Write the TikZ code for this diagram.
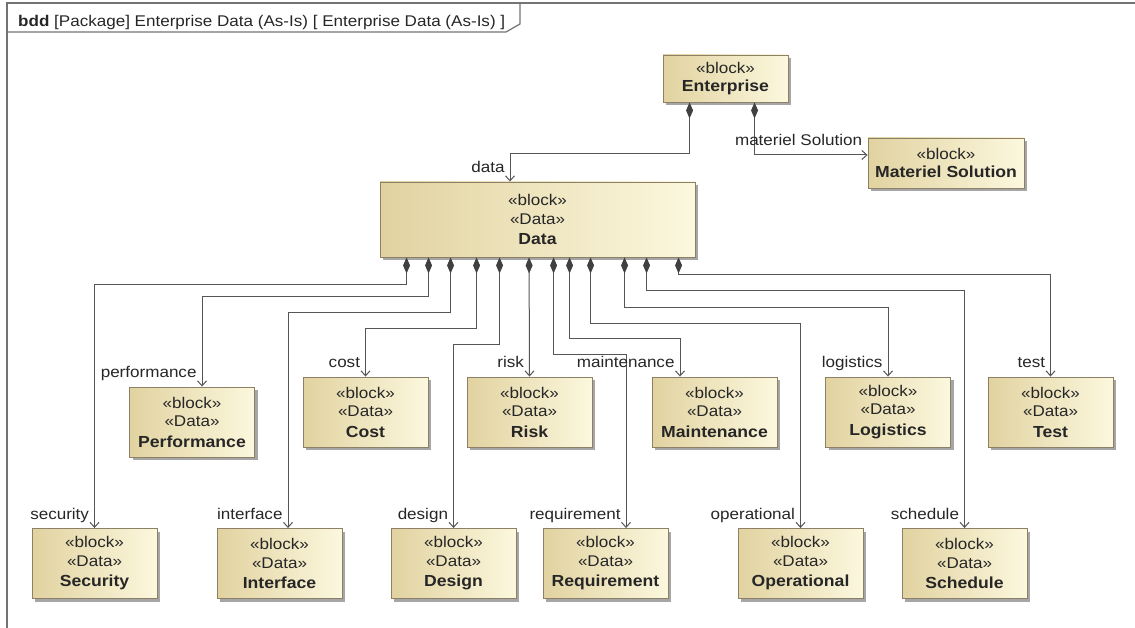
\documentclass[tikz,border=0pt]{standalone}
\usepackage{fontspec}
\setmainfont[FakeStretch=1.1]{Liberation Sans}
\usetikzlibrary{arrows.meta,shadows}

\definecolor{blkL}{HTML}{E1D2A0}
\definecolor{blkR}{HTML}{FCF8DE}
\definecolor{blkLine}{HTML}{8C8066}
\definecolor{wire}{HTML}{555555}
\newcommand{\bname}[1]{{\bfseries\fontsize{16}{19}\selectfont #1}}
\newcommand{\stdata}[1]{«block»\\«Data»\\[2pt]\bname{#1}}

\begin{document}
\begin{tikzpicture}[x=1pt,y=-1pt,
  blk/.style={draw=blkLine,line width=0.9pt,left color=blkL,right color=blkR,
    minimum width=125pt,minimum height=70pt,align=center,inner sep=0pt,
    font=\fontsize{15.5}{18.5}\selectfont,text=black!85,
    drop shadow={shadow xshift=3pt,shadow yshift=-3pt,fill=black!35,opacity=1}},
  comp/.style={draw=wire,line width=1pt,
    arrows={Diamond[length=16pt,width=7pt,color=black!75]-Straight Barb[length=5pt,width=9pt]}},
  role/.style={anchor=base east,inner sep=0pt,xshift=-5pt,yshift=9pt,
    font=\fontsize{15.5}{17}\selectfont,text=black!85},
  frm/.style={draw=black!55,line width=1.2pt}]
\useasboundingbox (0,0) rectangle (1135,628);

% frame and heading
\draw[frm] (7,628) -- (7,3) -- (1135,3);
\draw[frm] (7,32) -- (506,32) -- (520,24) -- (520,3);
\node[anchor=base west,inner sep=0pt,font=\fontsize{15.5}{17}\selectfont,text=black!85] (title) at (18,27)
  {\textbf{bdd} [Package] Enterprise Data (As-Is) [ Enterprise Data (As-Is) ]};

% blocks
\node[blk,minimum height=47pt] (ent) at (725.5,78.5) {«block»\\\bname{Enterprise}};
\node[blk,minimum width=156pt,minimum height=50pt] (mat) at (946,163) {«block»\\\bname{Materiel Solution}};
\node[blk,minimum width=315pt,minimum height=75pt] (data) at (537.5,219.5) {\stdata{Data}};

\node[blk] (perf) at (192,422) {\stdata{Performance}};
\node[blk] (cost) at (365.5,412) {\stdata{Cost}};
\node[blk] (risk) at (529.5,412) {\stdata{Risk}};
\node[blk] (maint) at (714.5,412) {\stdata{Maintenance}};
\node[blk] (logi) at (888,412) {\stdata{Logistics}};
\node[blk] (test) at (1050.5,412) {\stdata{Test}};

\node[blk] (secu) at (94.5,563.5) {\stdata{Security}};
\node[blk] (intf) at (279.5,563.5) {\stdata{Interface}};
\node[blk] (desg) at (453.5,563.5) {\stdata{Design}};
\node[blk] (reqt) at (605.5,563.5) {\stdata{Requirement}};
\node[blk] (oper) at (800.5,563.5) {\stdata{Operational}};
\node[blk] (schd) at (964.5,563.5) {\stdata{Schedule}};

% compositions
\draw[comp] ([xshift=27pt]ent.south west) -- ++(0,51) -| ([xshift=-27.5pt]data.north) node[role] {data};
\draw[comp] ([xshift=92pt]ent.south west) |- ([yshift=8pt]mat.west) node[role] {materiel Solution};

\draw[comp] ([xshift=27pt]data.south west) -- ++(0,27) -| (secu.north) node[role] {security};
\draw[comp] ([xshift=49pt]data.south west) -- ++(0,39) -| ([xshift=10pt]perf.north) node[role] {performance};
\draw[comp] ([xshift=71pt]data.south west) -- ++(0,55) -| ([xshift=8.5pt]intf.north) node[role] {interface};
\draw[comp] ([xshift=97pt]data.south west) -- ++(0,71) -| (cost.north) node[role] {cost};
\draw[comp] ([xshift=120pt]data.south west) -- ++(0,87) -| (desg.north) node[role] {design};
\draw[comp] ([xshift=149.5pt]data.south west) -- (risk.north) node[role] {risk};
\draw[comp] ([xshift=174pt]data.south west) -- ++(0,97) -| ([xshift=20.5pt]reqt.north) node[role] {requirement};
\draw[comp] ([xshift=190pt]data.south west) -- ++(0,81) -| ([xshift=-34.5pt]maint.north) node[role] {maintenance};
\draw[comp] ([xshift=211pt]data.south west) -- ++(0,66) -| (oper.north) node[role] {operational};
\draw[comp] ([xshift=245pt]data.south west) -- ++(0,50) -| (logi.north) node[role] {logistics};
\draw[comp] ([xshift=267pt]data.south west) -- ++(0,33) -| (schd.north) node[role] {schedule};
\draw[comp] ([xshift=299pt]data.south west) -- ++(0,17) -| (test.north) node[role] {test};
\end{tikzpicture}
\end{document}
